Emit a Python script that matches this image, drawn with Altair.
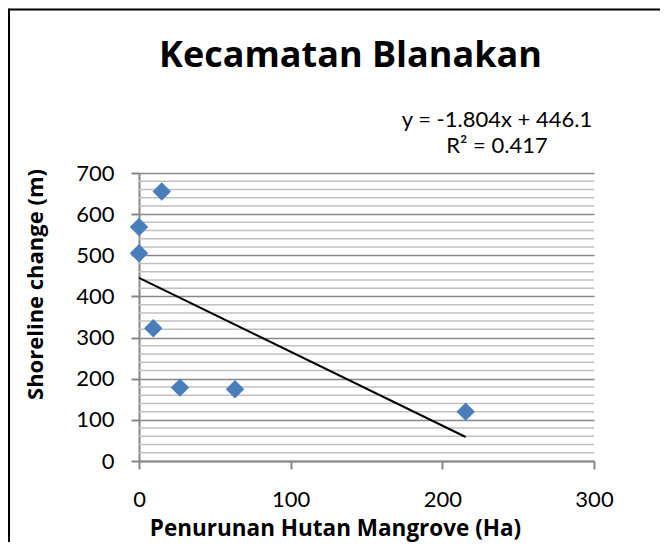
import altair as alt
import pandas as pd

# Data
forest_loss = [0, 0, 15, 9.4, 27, 63.3, 215.4]          # Penurunan Hutan Mangrove (Ha)
shoreline = [568.6, 505, 655, 322.8, 178.4, 174.4, 120]  # Shoreline change (m)
x_ticks = [0, 100, 200, 300]
y_ticks = [0, 100, 200, 300, 400, 500, 600, 700]
minor_grid = [v for v in range(20, 700, 20) if v % 100 != 0]
title_text = ["Kecamatan Blanakan"]
equation_lines = ["y = -1.804x + 446.1", "R² = 0.417"]

FONT = "Lato"
BOLD = "Open Sans"
df = pd.DataFrame({"x": forest_loss, "y": shoreline})

xscale = alt.Scale(domain=[0, 300], nice=False, zero=False)
yscale = alt.Scale(domain=[0, 700], nice=False, zero=False)

xaxis = alt.Axis(values=x_ticks, grid=False, domainColor="#868686", domainWidth=2,
                 tickColor="#868686", tickWidth=2, tickSize=8, labelFont=FONT,
                 labelFontSize=22, labelColor="black", labelPadding=20, labelFlush=False,
                 title="Penurunan Hutan Mangrove (Ha)", titleFont=BOLD, titleFontSize=22.5,
                 titleFontWeight="bold", titleColor="black", titleX=196, titleY=74,
                 titleAlign="center", titleBaseline="alphabetic")
yaxis = alt.Axis(values=y_ticks, grid=True, gridColor="#878787", gridWidth=1.5,
                 domainColor="#868686", domainWidth=2, tickColor="#868686", tickWidth=2,
                 tickSize=8, labelFont=FONT, labelFontSize=22, labelColor="black",
                 labelPadding=17, labelFlush=False, title="Shoreline change (m)",
                 titleFont=BOLD, titleFontSize=22, titleFontWeight="bold",
                 titleColor="black", titleX=-104, titleY=111, titleAngle=-90,
                 titleAlign="center", titleBaseline="middle")

minor = alt.Chart(pd.DataFrame({"g": minor_grid})).mark_rule(
    color="#c0c0c0", strokeWidth=1.5
).encode(y=alt.Y("g:Q", scale=yscale, axis=yaxis))

points = alt.Chart(df).mark_point(
    shape="diamond", size=340, filled=True, color="#4A7EBB", opacity=1
).encode(
    x=alt.X("x:Q", scale=xscale, axis=xaxis),
    y=alt.Y("y:Q", scale=yscale, axis=yaxis),
)

trend = alt.Chart(df).transform_regression("x", "y").mark_line(
    color="black", strokeWidth=2
).encode(x=alt.X("x:Q", scale=xscale, axis=xaxis),
         y=alt.Y("y:Q", scale=yscale, axis=yaxis))

title = alt.Chart(pd.DataFrame({"t": title_text})).mark_text(
    font=BOLD, fontSize=36, fontWeight="bold", color="black", align="center",
    baseline="alphabetic"
).encode(text="t:N", x=alt.value(211.5), y=alt.value(-106))

eq1 = alt.Chart(pd.DataFrame({"t": equation_lines[:1]})).mark_text(
    font=FONT, fontSize=22, color="black", align="center", baseline="alphabetic"
).encode(text="t:N", x=alt.value(358), y=alt.value(-46))

eq2 = alt.Chart(pd.DataFrame({"t": equation_lines[1:]})).mark_text(
    font=FONT, fontSize=22, color="black", align="center", baseline="alphabetic"
).encode(text="t:N", x=alt.value(358), y=alt.value(-20))

border_top = alt.Chart(pd.DataFrame({"b": [0]})).mark_rule(
    color="black", strokeWidth=2, clip=False
).encode(x=alt.value(-130), x2=alt.value(700), y=alt.value(-163.5))

border_left = alt.Chart(pd.DataFrame({"b": [0]})).mark_rule(
    color="black", strokeWidth=2, clip=False
).encode(x=alt.value(-130), y=alt.value(-164.5), y2=alt.value(500))

chart = alt.layer(minor, points, trend, title, eq1, eq2, border_top, border_left).properties(
    width=455, height=288,
    autosize=alt.AutoSizeParams(type="none"),
    padding={"left": 131, "top": 165, "right": 66, "bottom": 81},
    background="white",
).configure_view(stroke=None)

chart.save("out.html", embed_options={"renderer": "svg", "actions": False})
